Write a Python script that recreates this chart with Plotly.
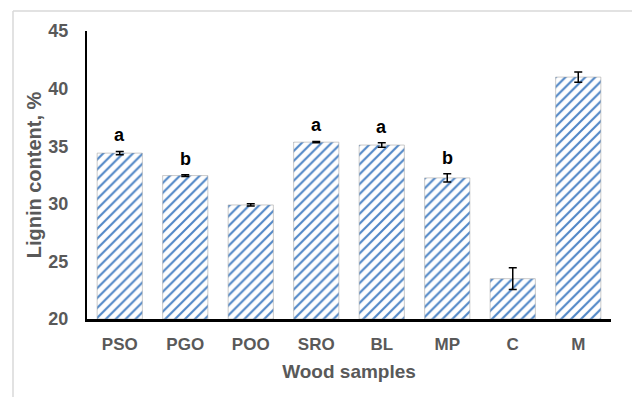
import plotly.graph_objects as go

# Lignin content by wood sample
samples = ["PSO", "PGO", "POO", "SRO", "BL", "MP", "C", "M"]
lignin = [34.4, 32.45, 29.9, 35.35, 35.1, 32.25, 23.5, 41.0]
lignin_sd = [0.15, 0.08, 0.1, 0.06, 0.2, 0.35, 0.95, 0.45]
group_letters = ["a", "b", "", "a", "a", "b", "", ""]

y_ticks = [20, 25, 30, 35, 40, 45]

GRAY = "#595959"
FONT = "Liberation Sans, Arial, sans-serif"

fig = go.Figure()
fig.add_trace(go.Bar(
    x=samples,
    y=[v - 20 for v in lignin],
    base=20,
    width=0.69,
    marker=dict(
        color="white",
        line=dict(color="rgba(160,160,160,0.55)", width=1),
        pattern=dict(shape="/", fgcolor="#4f86c6", bgcolor="white",
                     size=7, solidity=0.3, fillmode="replace"),
    ),
    error_y=dict(type="data", array=lignin_sd, visible=True,
                 color="black", thickness=1.5, width=4),
    showlegend=False,
    hoverinfo="skip",
))

# Significance letters above the error bars
for s, v, e, t in zip(samples, lignin, lignin_sd, group_letters):
    if t:
        fig.add_annotation(x=s, y=v + e, text=f"<b>{t}</b>", showarrow=False,
                           yanchor="bottom", yshift=4,
                           font=dict(family=FONT, size=18, color="black"))

fig.update_layout(
    width=632, height=397,
    margin=dict(l=87, r=21, t=31, b=78),
    paper_bgcolor="white", plot_bgcolor="white",
    font=dict(family=FONT, color=GRAY),
    bargap=0.31,
    xaxis=dict(
        range=[-0.5, 7.5],
        showline=True, linecolor="black", linewidth=2.5,
        ticks="", showgrid=False,
        ticklabelstandoff=8,
        tickfont=dict(family=FONT, size=17, color=GRAY),
        title=dict(text="<b>Wood samples</b>", standoff=12,
                   font=dict(family=FONT, size=19, color=GRAY)),
    ),
    yaxis=dict(
        range=[20, 45],
        tickvals=y_ticks,
        ticktext=[f"<b>{v}</b>" for v in y_ticks],
        showline=True, linecolor="black", linewidth=2,
        ticks="", showgrid=False, zeroline=False,
        ticklabelstandoff=13,
        tickfont=dict(family=FONT, size=18, color=GRAY),
        title=dict(text="<b>Lignin content, %</b>", standoff=1,
                   font=dict(family=FONT, size=20, color=GRAY)),
    ),
    xaxis_tickprefix="<b>", xaxis_ticksuffix="</b>",
)

# Light chart-area frame
fig.add_shape(type="line", xref="paper", yref="paper",
              x0=(13 - 87) / 524, x1=1.05, y0=(397 - 11 - 78) / 288, y1=(397 - 11 - 78) / 288,
              line=dict(color="#d9d9d9", width=1.5), layer="below")
fig.add_shape(type="line", xref="paper", yref="paper",
              x0=(13 - 87) / 524, x1=(13 - 87) / 524, y0=(397 - 11 - 78) / 288, y1=-0.3,
              line=dict(color="#d9d9d9", width=1.5), layer="below")

fig.write_html("out.html")
